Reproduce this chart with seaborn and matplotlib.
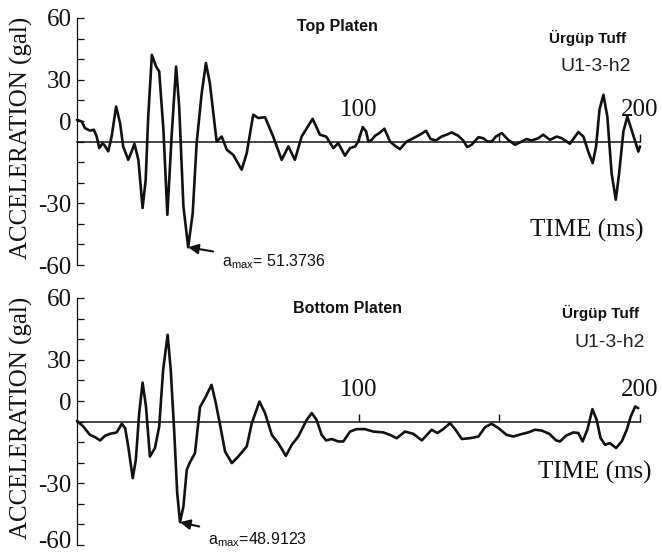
import matplotlib
matplotlib.use("Agg")
import matplotlib.pyplot as plt
import matplotlib.transforms as mtransforms
from matplotlib.ticker import MultipleLocator
import seaborn as sns
import pandas as pd

# Top platen acceleration record (time in ms, acceleration in gal)
top_time = [0, 1.7, 2.8, 4.6, 6.0, 7.0, 7.9, 9.1, 9.9, 11.1, 12.3, 13.9, 15.3, 16.4,
            18.2, 19.4, 20.4, 21.8, 23.3, 24.4, 25.3, 26.6, 28.1, 29.2, 30.7, 32.1,
            33.6, 35.2, 36.3, 37.8, 39.5, 41.1, 42.5, 44.3, 45.8, 47.2, 49.6, 51.4,
            53.2, 55.5, 58.5, 60.3, 62.6, 64.4, 66.8, 69.7, 72.7, 75.1, 77.4, 79.8,
            83.7, 86.3, 88.5, 91.1, 92.8, 95.2, 97.0, 98.8, 99.9, 101.5, 102.7, 103.5,
            104.7, 105.9, 107.4, 109.2, 111.2, 113.0, 114.7, 117.1, 119.5, 121.8,
            124.0, 125.6, 127.5, 129.5, 131.3, 133.1, 135.4, 137.2, 138.6, 140.2,
            142.6, 144.3, 145.8, 147.3, 148.8, 150.9, 153.2, 155.6, 158.0, 159.7,
            161.5, 163.9, 165.6, 168.0, 170.4, 172.2, 175.1, 178.1, 179.9, 181.6,
            183.2, 184.4, 185.6, 187.0, 188.4, 189.9, 191.4, 192.6, 194.1, 195.5,
            197.0, 199.4, 200.0]
top_acc = [10.5, 9.7, 6.5, 5.3, 5.7, 2.4, -3.2, -0.8, -2.1, -4.8, 2.4, 17.0, 8.9, -2.4,
           -8.9, -4.9, -1.1, -8.9, -32.3, -18.6, 12.1, 42.1, 36.4, 34.0, 5.7, -35.6,
           2.4, 36.4, 17.0, -31.5, -51.3736, -34.8, -0.8, 23.5, 38.1, 28.3, 0.0, 2.4,
           -4.0, -6.5, -13.7, -5.6, 13.0, 11.4, 11.8, 2.4, -8.9, -2.4, -8.9, 2.4,
           11.0, 3.3, 2.4, -3.2, -0.8, -6.9, -3.2, -2.4, 0.0, 7.0, 4.9, 0.0,
           0.8, 2.8, 4.1, 6.2, 0.0, -2.1, -3.7, 0.0, 1.6, 3.3,
           5.2, 1.2, 0.5, 2.4, 3.3, 4.4, 2.8, 0.5, -2.7, -1.6,
           2.1, 1.6, 0.0, 0.0, 2.4, 4.1, 0.8, -1.6, 0.0, 1.2,
           0.5, 1.6, 3.3, 0.8, 2.4, 1.6, -1.1, 4.6, 2.4, -4.9,
           -10.5, -2.4, 15.4, 22.7, 12.1, -15.3, -28.3, -15.3, 4.9, 12.1,
           5.7, -4.9, -2.4]

# Bottom platen acceleration record
bot_time = [0, 2.2, 4.6, 6.4, 8.2, 10.0, 11.7, 14.1, 15.9, 17.1, 18.2, 19.8, 20.9,
            22.1, 23.3, 24.5, 25.9, 27.7, 29.2, 30.6, 32.2, 33.3, 34.5, 35.6, 36.6,
            37.8, 39.0, 40.1, 41.9, 43.7, 45.5, 47.8, 49.3, 50.8, 52.6, 55.0, 57.3,
            60.3, 62.1, 64.8, 66.8, 69.2, 71.5, 74.2, 76.3, 78.6, 81.6, 83.4, 85.1,
            86.9, 88.5, 90.5, 92.8, 94.6, 97.0, 99.3, 102.3, 105.3, 108.8, 111.2,
            113.6, 116.5, 119.5, 122.5, 126.0, 128.0, 130.1, 132.5, 134.3, 136.7,
            139.6, 142.6, 145.0, 147.3, 149.7, 152.6, 155.0, 158.0, 160.3, 162.7,
            165.1, 167.8, 170.2, 171.6, 173.7, 176.3, 178.1, 179.6, 181.3, 183.1,
            184.6, 186.0, 187.6, 189.3, 191.5, 193.5, 195.3, 196.7, 198.3, 199.4]
bot_acc = [0.3, -2.4, -6.5, -7.6, -9.2, -6.9, -6.0, -5.3, -1.1, -3.2, -12.1, -27.5, -18.6,
           4.1, 18.9, 7.3, -17.0, -12.9, -2.4, 25.1, 42.1, 25.1, -4.0, -34.8, -48.9123,
           -41.3, -23.4, -19.9, -15.4, 7.0, 11.4, 17.8, 9.0, -1.5, -14.6, -20.2, -17.0,
           -12.1, -0.8, 9.7, 4.1, -6.5, -10.5, -16.7, -11.3, -7.3, 0.8, 4.1, 0.8,
           -6.5, -9.2, -8.5, -9.7, -9.7, -4.9, -3.7, -3.7, -4.9, -5.3, -6.5,
           -8.1, -4.9, -6.0, -9.2, -4.0, -5.6, -3.7, -0.8, -3.7, -8.5,
           -8.1, -7.3, -2.7, -1.1, -3.2, -6.5, -7.3, -6.1, -5.3, -4.0,
           -4.4, -6.0, -9.2, -9.7, -6.9, -5.3, -5.6, -9.7, -4.0, 6.0,
           0.8, -8.1, -11.3, -10.5, -12.9, -9.7, -4.0, 2.4, 7.3, 6.5]

y_ticks = [-60, -30, 0, 30, 60]
y_tick_labels = ["-60", "-30", "0", "30", "60"]
x_ticks = [100, 150, 200]
x_tick_labels = ["100", "", "200"]

panel_titles = ["Top Platen", "Bottom Platen"]
material = "Ürgüp Tuff"
specimen = "U1-3-h2"
peak_values = [51.3736, 48.9123]
peak_texts = [r"$\mathregular{a_{max}}$= 51.3736", r"$\mathregular{a_{max}}$=48.9123"]

sns.set_theme(style="white")
serif = ["Liberation Serif", "DejaVu Serif"]
sans = ["Liberation Sans", "DejaVu Sans"]
plt.rcParams["font.family"] = serif

fig = plt.figure(figsize=(6.62, 5.53), dpi=100)
ax_top = fig.add_axes([77 / 662, 1 - 265 / 553, 563 / 662, 247 / 553])
ax_bot = fig.add_axes([77 / 662, 1 - 545 / 553, 563 / 662, 247 / 553])

records = [
    pd.DataFrame({"time": top_time, "acc": top_acc}),
    pd.DataFrame({"time": bot_time, "acc": bot_acc}),
]

# Per-panel text placement (data coordinates)
title_pos = [(92.4, 55.7), (96.2, 55.0)]
material_pos = [(181.5, 50.3), (186.1, 52.8)]
specimen_pos = [(184.4, 36.3), (189.3, 38.2)]
time_label_pos = [(181.2, -43.3), (184.0, -24.9)]
note_pos = [(51.5, -58.4), (46.5, -57.4)]

for i, (ax, df) in enumerate(zip([ax_top, ax_bot], records)):
    sns.lineplot(data=df, x="time", y="acc", ax=ax, color="#111111", lw=1.9,
                 sort=False, estimator=None, clip_on=False)
    ax.set_xlim(0, 200)
    ax.set_ylim(-60, 60)
    ax.set_facecolor("white")

    # Time axis drawn through zero acceleration, ticks and labels above it
    for side in ["bottom", "right"]:
        ax.spines[side].set_visible(False)
    ax.spines["top"].set_position(("data", 0))
    ax.spines["top"].set_color("#111111")
    ax.spines["top"].set_linewidth(1.1)
    ax.spines["left"].set_color("#111111")
    ax.spines["left"].set_linewidth(0.9)
    ax.xaxis.set_ticks_position("top")
    ax.set_xticks(x_ticks, labels=x_tick_labels)
    ax.tick_params(axis="x", direction="out", length=6, width=1, pad=9,
                   labelsize=18, colors="#111111")

    ax.set_yticks(y_ticks, labels=y_tick_labels)
    ax.yaxis.set_minor_locator(MultipleLocator(10))
    ax.tick_params(axis="y", which="both", direction="in", length=5, width=0.9,
                   left=True, colors="#111111")
    ax.tick_params(axis="y", which="major", labelsize=18, pad=4)

    ax.set_ylabel("ACCELERATION (gal)", fontsize=18, color="#111111")
    ax.yaxis.set_label_coords(-0.078, 0.514)
    ax.set_xlabel("TIME (ms)", fontsize=18, color="#111111")
    ax.xaxis.set_label_coords(*time_label_pos[i], transform=ax.transData)
    ax.xaxis.label.set_va("center")

    ax.text(*title_pos[i], panel_titles[i], family=sans, fontsize=11.5,
            fontweight="bold", ha="center", va="center", color="#111111")
    ax.text(*material_pos[i], material, family=sans, fontsize=11,
            fontweight="bold", ha="center", va="center", color="#111111")
    ax.text(*specimen_pos[i], specimen, family=sans, fontsize=14,
            ha="center", va="center", color="#222222")

    # Arrow pointing at the peak (most negative) acceleration
    k = df["acc"].idxmin()
    ax.annotate(peak_texts[i], xy=(df["time"][k], -peak_values[i]),
                xytext=note_pos[i], family=sans, fontsize=11.5,
                ha="left", va="center", color="#111111", annotation_clip=False,
                arrowprops=dict(arrowstyle="-|>", color="#111111", lw=1.5,
                                mutation_scale=15, shrinkA=4, shrinkB=0))

    # Zero label sits raised above the time axis
    labels = ax.get_yticklabels()
    zero_label = labels[2]
    zero_label.set_transform(zero_label.get_transform() +
                             mtransforms.ScaledTranslation(0, 0.20, fig.dpi_scale_trans))
    if i == 1:
        # keep the lowest label inside the figure edge
        low_label = labels[0]
        low_label.set_transform(low_label.get_transform() +
                                mtransforms.ScaledTranslation(0, 0.06, fig.dpi_scale_trans))

fig.savefig("out.png", dpi=100, facecolor="white")
